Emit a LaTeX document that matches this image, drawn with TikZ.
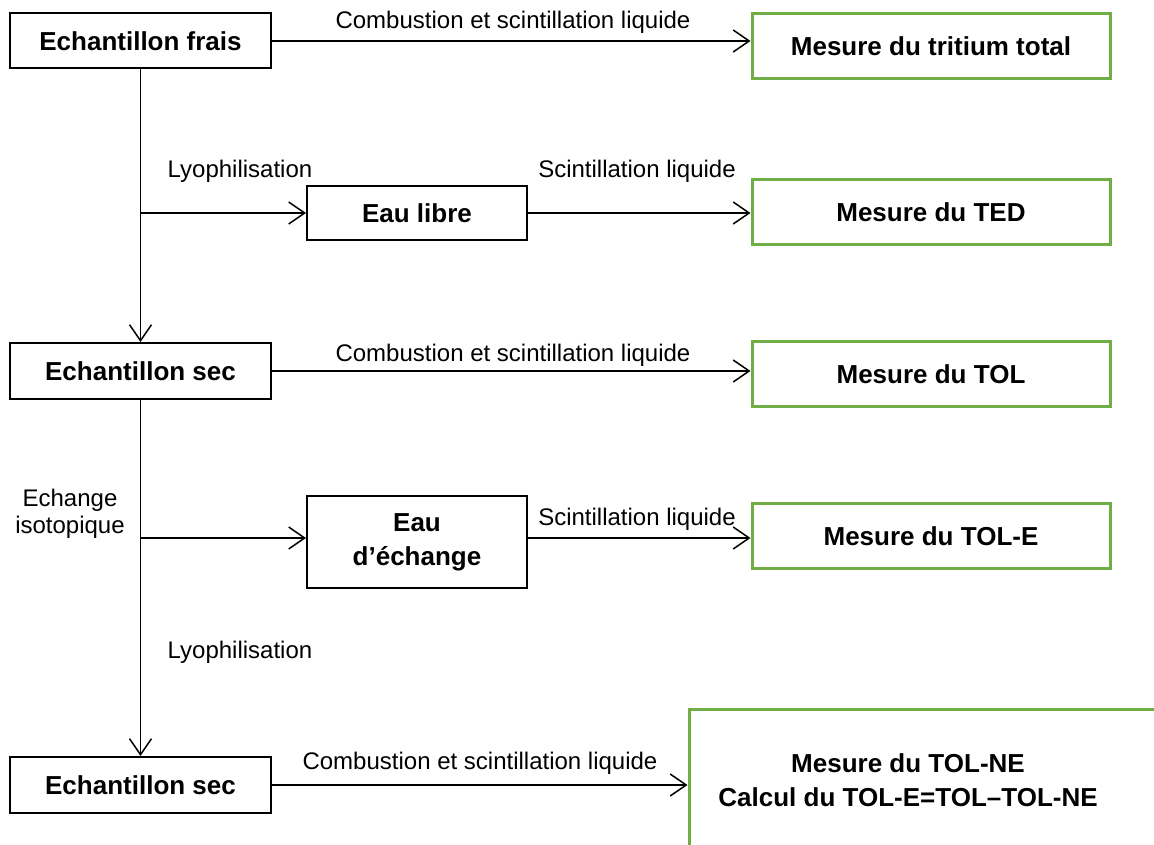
\documentclass[tikz,border=0pt]{standalone}
\usepackage{fontspec}
\setmainfont{Liberation Sans}
\usetikzlibrary{arrows.meta}
\definecolor{boxgreen}{RGB}{112,173,71}
\begin{document}
\begin{tikzpicture}[x=1pt,y=-1pt,
  srcbox/.style={draw=black,line width=2pt,inner sep=0pt,align=center,
    font=\fontsize{26}{31}\selectfont\bfseries},
  resbox/.style={draw=boxgreen,line width=3pt,inner sep=0pt,align=center,
    minimum width=358pt,minimum height=65pt,
    font=\fontsize{26}{31}\selectfont\bfseries},
  lbl/.style={inner sep=0pt,align=center,font=\fontsize{24}{29}\selectfont},
  conn/.style={line width=1.5pt,-{Straight Barb[length=16pt,width=22pt]}},
  plain/.style={line width=1.5pt}]
\useasboundingbox (0,0) rectangle (1154,845);
\clip (0,0) rectangle (1154,845);
% left column
\node[srcbox,minimum width=261pt,minimum height=55pt] (frais) at (140.5,41) {Echantillon frais};
\node[srcbox,minimum width=261pt,minimum height=56pt] (sec1) at (140.5,371) {Echantillon sec};
\node[srcbox,minimum width=261pt,minimum height=56pt] (sec2) at (140.5,785) {Echantillon sec};
% middle column
\node[srcbox,minimum width=220pt,minimum height=54pt] (libre) at (417,213) {Eau libre};
\node[srcbox,minimum width=220pt,minimum height=92pt,font=\fontsize{26}{34}\selectfont\bfseries] (echg) at (417,542) {Eau\\d’échange};
% right column
\node[resbox] (tot) at (931,46) {Mesure du tritium total};
\node[resbox] (ted) at (931,212) {Mesure du TED};
\node[resbox] (tol) at (931,374) {Mesure du TOL};
\node[resbox] (tole) at (931,536) {Mesure du TOL-E};
\node[draw=boxgreen,line width=3pt,minimum width=500pt,minimum height=200pt,inner sep=0pt] (big) at (939,809) {};
\node[inner sep=0pt,align=center,font=\fontsize{26}{34}\selectfont\bfseries] (bigtxt) at (908,780) {Mesure du TOL-NE\\Calcul du TOL-E=TOL–TOL-NE};
% junctions on the vertical line
\coordinate (j1) at (frais.south |- libre.west);
\coordinate (j2) at (frais.south |- 0,538);
% connectors
\draw[plain] (frais.south) -- (j1);
\draw[conn] (j1) -- (sec1.north);
\draw[conn] (j1) -- (libre.west);
\draw[plain] (sec1.south) -- (j2);
\draw[conn] (j2) -- (sec2.north);
\draw[conn] (j2) -- (j2 -| echg.west);
\draw[conn] (frais.east) -- (frais.east -| tot.west);
\draw[conn] (libre.east) -- (libre.east -| ted.west);
\draw[conn] (sec1.east) -- (sec1.east -| tol.west);
\draw[conn] (j2 -| echg.east) -- (j2 -| tole.west);
\draw[conn] (sec2.east) -- (sec2.east -| big.west);
% labels
\node[lbl] (l1) at (513,22) {Combustion et scintillation liquide};
\node[lbl] (l2) at (240,171) {Lyophilisation};
\node[lbl] (l3) at (637,171) {Scintillation liquide};
\node[lbl] (l4) at (513,355) {Combustion et scintillation liquide};
\node[lbl,font=\fontsize{24}{27}\selectfont] (l5) at (70,514) {Echange\\isotopique};
\node[lbl] (l6) at (637,519) {Scintillation liquide};
\node[lbl] (l7) at (240,652) {Lyophilisation};
\node[lbl] (l8) at (480,763) {Combustion et scintillation liquide};
\end{tikzpicture}
\end{document}
